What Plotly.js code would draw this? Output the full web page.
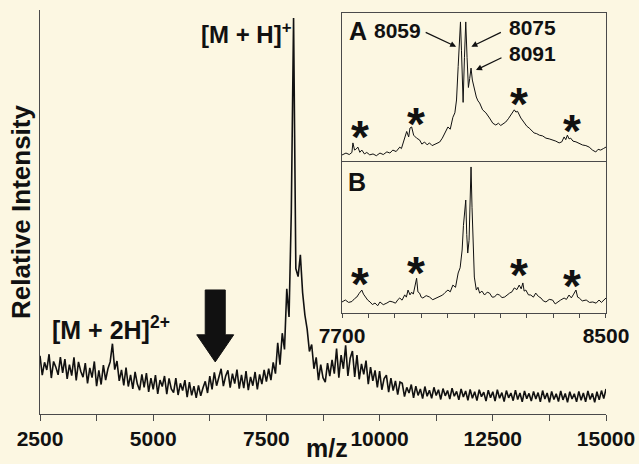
<!DOCTYPE html>
<html>
<head>
<meta charset="utf-8">
<script src="https://cdn.plot.ly/plotly-3.0.1.min.js"></script>
<style>
  html, body { margin: 0; padding: 0; background: #fcf7e2; }
  #chart { width: 639px; height: 464px; }
</style>
</head>
<body>
<div id="chart"></div>
<script>
// ---------------- DATA ----------------
// Main spectrum: m/z sampled every 50 from 2500 to 15000, relative intensity (%)
const mainMzStart = 2500;
const mainMzStep = 50;
const mainIntensity = [
  // 2500-2950
  14.4, 9.6, 12.8, 10.9, 14.8, 8.9, 13.0, 11.6, 9.7, 14.1,
  // 3000-3450
  10.2, 13.6, 8.7, 12.2, 9.5, 14.0, 8.3, 12.9, 10.6, 9.1,
  // 3500-3950
  12.6, 7.6, 11.4, 9.0, 13.0, 6.9, 10.8, 7.3, 12.1, 8.4,
  // 4000-4450  ([M+2H]2+)
  11.2, 12.9, 17.4, 11.0, 13.1, 8.2, 10.9, 7.1, 11.5, 6.8,
  // 4500-4950
  9.7, 6.2, 10.4, 7.4, 5.9, 9.8, 6.6, 10.1, 5.5, 8.9,
  // 5000-5450
  6.1, 9.6, 5.0, 8.4, 6.8, 9.4, 4.9, 8.8, 6.2, 5.3,
  // 5500-5950
  8.9, 4.7, 7.6, 5.8, 8.4, 4.2, 7.9, 4.6, 6.9, 4.0,
  // 6000-6450
  7.1, 4.5, 6.5, 8.1, 5.2, 9.4, 6.1, 10.3, 7.0, 9.1,
  // 6500-6950
  11.2, 6.9, 9.4, 10.8, 6.5, 10.0, 7.5, 11.0, 6.3, 9.7,
  // 7000-7450
  6.4, 10.6, 5.9, 9.2, 7.0, 10.4, 6.1, 9.8, 7.4, 10.9,
  // 7500-7950
  8.0, 11.2, 8.4, 12.8, 10.0, 17.6, 12.2, 20.0, 16.0, 31.0,
  // 8000-8450  ([M+H]+)
  24.0, 50.0, 98.0, 36.0, 34.0, 39.4, 30.0, 24.5, 21.0, 15.5,
  // 8500-8950
  17.2, 11.2, 14.0, 8.4, 12.2, 9.0, 7.9, 12.6, 9.4, 13.4,
  // 9000-9450
  10.0, 16.2, 9.0, 14.6, 11.2, 17.0, 9.4, 13.8, 15.6, 9.2,
  // 9500-9950
  14.6, 8.6, 12.4, 9.8, 13.2, 7.4, 11.6, 8.2, 10.8, 6.6,
  // 10000-10450
  10.6, 6.0, 8.8, 9.6, 5.4, 8.9, 5.8, 8.2, 4.8, 7.9,
  // 10500-10950
  7.6, 4.3, 6.6, 5.2, 7.3, 4.0, 6.9, 4.6, 6.2, 3.8,
  // 11000-11450
  6.8, 4.4, 5.9, 3.9, 6.6, 4.6, 6.0, 3.6, 6.3, 4.5,
  // 11500-11950
  5.8, 3.7, 6.4, 4.4, 5.6, 3.5, 6.2, 4.2, 5.7, 3.4,
  // 12000-12450
  6.1, 3.9, 5.5, 3.3, 6.0, 4.3, 5.4, 3.2, 5.9, 4.0,
  // 12500-12950
  5.5, 3.2, 6.0, 3.9, 5.3, 3.1, 5.8, 4.0, 5.2, 3.3,
  // 13000-13450
  5.9, 3.6, 5.2, 3.0, 5.7, 3.8, 5.1, 3.2, 5.6, 3.7,
  // 13500-13950
  5.3, 3.0, 5.8, 3.7, 5.2, 2.9, 5.6, 3.6, 5.0, 3.1,
  // 14000-14450
  5.7, 3.5, 5.1, 2.9, 5.5, 3.7, 5.0, 3.0, 5.6, 3.4,
  // 14500-14950
  5.2, 3.0, 5.7, 3.6, 5.1, 2.9, 5.5, 3.5, 5.8, 3.8,
  // 15000
  6.2
];
const mainMz = mainIntensity.map((_, i) => mainMzStart + i * mainMzStep);

// Inset A
const insetAMz = [
  7700,7712,7722,7730,7733,7738,7742,7748,7754,7760,
  7768,7775,7784,7794,7804,7815,7825,7836,7845,7854,
  7864,7875,7880,7885,7893,7896,7902,7906,7911,7917,
  7926,7935,7942,7950,7958,7965,7973,7981,7988,7996,
  8004,8011,8021,8028,8036,8042,8047,8052,8056,8059,
  8062,8067,8071,8075,8079,8083,8087,8091,8095,8101,
  8107,8112,8117,8126,8136,8147,8157,8166,8174,8181,
  8189,8196,8204,8212,8218,8222,8227,8232,8242,8252,
  8260,8267,8275,8282,8290,8298,8308,8318,8328,8338,
  8348,8358,8366,8373,8378,8383,8388,8393,8400,8409,
  8419,8429,8439,8449,8459,8469,8476,8484,8492,8500
];
const insetAIntensity = [
  4.7,6.0,5.0,6.4,12.8,8.0,8.5,10.0,6.5,8.0,
  5.4,6.4,4.8,5.4,4.2,6.0,5.0,6.8,6.0,8.0,
  7.0,10.0,9.0,12.8,19.5,20.5,16.8,22.8,23.5,18.0,
  16.0,14.8,12.0,13.4,11.5,12.8,11.0,12.0,12.5,13.4,
  16.0,19.5,23.5,22.0,30.0,33.0,41.6,64.0,85.0,94.0,
  75.0,40.0,70.0,94.0,70.0,50.0,56.0,63.0,55.0,48.0,
  43.6,41.0,39.6,35.0,33.0,29.5,26.0,24.8,26.0,24.5,
  25.5,26.8,29.0,31.5,33.0,35.0,33.5,34.0,29.5,26.0,
  24.0,22.8,21.0,19.5,19.0,18.0,17.5,16.0,15.5,14.8,
  14.0,12.8,13.5,16.8,15.0,18.0,15.5,16.0,14.0,13.5,
  12.5,11.4,11.0,10.0,8.0,6.7,8.5,8.0,9.0,10.0
];

// Inset B
const insetBMz = [
  7700,7710,7720,7730,7738,7745,7752,7760,7765,7770,
  7778,7785,7792,7800,7808,7815,7825,7836,7845,7854,
  7862,7870,7875,7882,7890,7895,7900,7906,7911,7916,
  7920,7926,7930,7935,7940,7945,7955,7965,7975,7986,
  7995,8005,8012,8021,8028,8036,8044,8052,8058,8064,
  8068,8072,8075,8078,8081,8085,8088,8091,8094,8097,
  8101,8107,8112,8117,8124,8132,8140,8147,8155,8162,
  8170,8177,8185,8193,8200,8208,8215,8222,8230,8237,
  8243,8248,8252,8257,8265,8272,8280,8287,8295,8303,
  8310,8318,8328,8338,8346,8353,8362,8373,8380,8388,
  8395,8402,8409,8414,8419,8428,8440,8450,8460,8470,
  8479,8486,8493,8500
];
const insetBIntensity = [
  7.3,8.6,7.0,7.6,9.5,10.6,13.0,15.2,12.5,11.0,
  8.5,7.3,5.6,6.6,4.8,7.3,5.5,6.6,7.8,7.3,
  6.5,9.0,9.9,8.5,12.0,10.5,15.2,12.0,13.8,12.5,
  17.2,23.0,14.0,13.2,10.5,9.9,11.5,10.6,8.8,9.9,
  11.0,11.9,13.5,15.2,14.0,18.5,17.0,26.5,30.0,41.7,
  58.0,70.0,74.8,52.0,39.7,48.0,75.0,96.7,70.0,45.0,
  23.8,15.2,17.0,13.2,14.5,11.9,13.8,13.2,10.5,10.6,
  12.5,11.9,10.2,10.6,12.0,13.2,14.0,16.6,15.5,18.5,
  16.0,19.9,14.5,15.2,12.0,11.9,10.5,13.2,11.0,9.9,
  8.0,7.3,9.0,8.6,6.0,7.3,8.5,9.9,9.0,11.9,
  10.0,12.5,15.2,10.5,9.9,8.0,8.6,7.0,7.3,6.5,
  8.6,7.0,8.2,9.9
];

// Tick labels
const mainTickVals = [2500,3750,5000,6250,7500,8750,10000,11250,12500,13750,15000];
const mainTickText = ['2500','','5000','','7500','','10000','','12500','','15000'];
const insetTickVals = [7700,7780,7860,7940,8020,8100,8180,8260,8340,8420,8500];
const insetTickText = ['7700','','','','','','','','','','8500'];

// Asterisk (adduct) marks in insets: m/z and height
const starsAMz = [7756, 7923, 8237, 8396];
const starsAY  = [22.8, 31.5, 45.0, 27.0];
const starsBMz = [7756, 7923, 8237, 8396];
const starsBY  = [25.2, 32.5, 31.1, 24.0];

// Isotope-peak labels in inset A
const peakLabels = ['8059', '8075', '8091'];

// Big arrow in main panel (m/z of tip, intensity values)
const arrowMz = 6370;
const arrowTipY = 12.9;
const arrowHeadY = 19.6;
const arrowTopY = 30.7;
const arrowShaftHalf = 221;
const arrowHeadHalf = 408;

// ---------------- STYLE ----------------
const BG = '#fcf7e2';
const INK = '#111111';
const AXIS = '#4a4a4a';
const FONT = 'Liberation Sans, Arial, Helvetica, sans-serif';

const traces = [
  { x: mainMz, y: mainIntensity, type: 'scatter', mode: 'lines',
    line: { color: INK, width: 1.6 }, xaxis: 'x', yaxis: 'y', hoverinfo: 'skip' },
  { x: insetAMz, y: insetAIntensity, type: 'scatter', mode: 'lines',
    line: { color: INK, width: 1 }, xaxis: 'x2', yaxis: 'y2', hoverinfo: 'skip' },
  { x: insetBMz, y: insetBIntensity, type: 'scatter', mode: 'lines',
    line: { color: INK, width: 1 }, xaxis: 'x3', yaxis: 'y3', hoverinfo: 'skip' }
];

const insetXDomain = [0.5336, 1.0];
const boxAxis = {
  showline: true, mirror: true, linecolor: AXIS, linewidth: 1,
  showgrid: false, zeroline: false, ticks: '', showticklabels: false
};

const annotations = [];
// x-axis title (placed as annotation so it can sit near the very bottom)
annotations.push({ xref: 'paper', yref: 'paper', x: 0.507, y: -0.1238,
  text: 'm/z', showarrow: false, xanchor: 'center', yanchor: 'bottom',
  font: { family: FONT, size: 25, color: INK, weight: 'bold' } });
// ion labels
annotations.push({ xref: 'paper', yref: 'paper', x: 0.364, y: 0.943,
  text: '[M + H]<sup>+</sup>', showarrow: false, xanchor: 'center', yanchor: 'middle',
  font: { family: FONT, size: 24, color: INK, weight: 'bold' } });
annotations.push({ xref: 'paper', yref: 'paper', x: 0.1254, y: 0.214,
  text: '[M + 2H]<sup>2+</sup>', showarrow: false, xanchor: 'center', yanchor: 'middle',
  font: { family: FONT, size: 25, color: INK, weight: 'bold' } });
// panel letters
annotations.push({ xref: 'x2 domain', yref: 'y2 domain', x: 0.06, y: 0.88,
  text: 'A', showarrow: false, xanchor: 'center', yanchor: 'middle',
  font: { family: FONT, size: 25, color: INK, weight: 'bold' } });
annotations.push({ xref: 'x3 domain', yref: 'y3 domain', x: 0.055, y: 0.87,
  text: 'B', showarrow: false, xanchor: 'center', yanchor: 'middle',
  font: { family: FONT, size: 25, color: INK, weight: 'bold' } });
// peak labels
const peakLabelPos = [[0.21, 0.885], [0.72, 0.905], [0.72, 0.728]];
peakLabels.forEach((t, i) => {
  annotations.push({ xref: 'x2 domain', yref: 'y2 domain', x: peakLabelPos[i][0], y: peakLabelPos[i][1],
    text: t, showarrow: false, xanchor: 'center', yanchor: 'middle',
    font: { family: FONT, size: 21, color: INK, weight: 'bold' } });
});
// peak pointer arrows (tip in data coords, tail as pixel offsets)
const pointerTips = [[8046, 77.4, -32, -15], [8092, 77.4, 31, -15], [8106, 61.7, 27, -13]];
pointerTips.forEach(p => {
  annotations.push({ xref: 'x2', yref: 'y2', x: p[0], y: p[1], ax: p[2], ay: p[3],
    text: '', showarrow: true, arrowhead: 2, arrowsize: 1, arrowwidth: 1.2, arrowcolor: INK,
    standoff: 0, startstandoff: 0 });
});
// asterisks
starsAMz.forEach((m, i) => {
  annotations.push({ xref: 'x2', yref: 'y2', x: m, y: starsAY[i], text: '*', showarrow: false,
    xanchor: 'center', yanchor: 'middle', yshift: -9,
    font: { family: FONT, size: 46, color: INK, weight: 'bold' } });
});
starsBMz.forEach((m, i) => {
  annotations.push({ xref: 'x3', yref: 'y3', x: m, y: starsBY[i], text: '*', showarrow: false,
    xanchor: 'center', yanchor: 'middle', yshift: -9,
    font: { family: FONT, size: 46, color: INK, weight: 'bold' } });
});

const arrowPath = [
  'M', arrowMz - arrowShaftHalf, arrowTopY,
  'L', arrowMz + arrowShaftHalf, arrowTopY,
  'L', arrowMz + arrowShaftHalf, arrowHeadY,
  'L', arrowMz + arrowHeadHalf, arrowHeadY,
  'L', arrowMz, arrowTipY,
  'L', arrowMz - arrowHeadHalf, arrowHeadY,
  'L', arrowMz - arrowShaftHalf, arrowHeadY, 'Z'
].join(' ');

const layout = {
  width: 639, height: 464,
  margin: { l: 40, r: 33, t: 10, b: 50, pad: 0 },
  paper_bgcolor: BG, plot_bgcolor: BG,
  showlegend: false,
  font: { family: FONT, color: INK },
  xaxis: {
    domain: [0, 1], range: [2500, 15000], anchor: 'y',
    showline: true, linecolor: AXIS, linewidth: 1, mirror: false,
    showgrid: false, zeroline: false,
    ticks: 'outside', ticklen: 6, tickwidth: 1, tickcolor: AXIS,
    tickmode: 'array', tickvals: mainTickVals, ticktext: mainTickText,
    tickfont: { family: FONT, size: 21, color: INK, weight: 'bold' },
    automargin: false
  },
  yaxis: {
    domain: [0, 1], range: [0, 100], anchor: 'x',
    showline: true, linecolor: AXIS, linewidth: 1,
    showgrid: false, zeroline: false, ticks: '', showticklabels: false,
    automargin: false,
    title: { text: 'Relative Intensity', font: { family: FONT, size: 26, color: INK, weight: 'bold' }, standoff: 0 }
  },
  xaxis2: Object.assign({}, boxAxis, { domain: insetXDomain, range: [7700, 8500], anchor: 'y2' }),
  yaxis2: Object.assign({}, boxAxis, { domain: [0.6238, 0.9926], range: [0, 100], anchor: 'x2' }),
  xaxis3: Object.assign({}, boxAxis, {
    domain: insetXDomain, range: [7700, 8500], anchor: 'y3',
    ticks: 'outside', ticklen: 4, tickwidth: 1, tickcolor: AXIS,
    showticklabels: true, tickmode: 'array', tickvals: insetTickVals, ticktext: insetTickText,
    tickfont: { family: FONT, size: 21, color: INK, weight: 'bold' }
  }),
  yaxis3: Object.assign({}, boxAxis, { domain: [0.25, 0.6238], range: [0, 100], anchor: 'x3' }),
  annotations: annotations,
  shapes: [
    { type: 'path', xref: 'x', yref: 'y', path: arrowPath,
      fillcolor: INK, line: { color: INK, width: 1 } }
  ]
};

Plotly.newPlot('chart', traces, layout, { staticPlot: true, displayModeBar: false });
</script>
</body>
</html>
